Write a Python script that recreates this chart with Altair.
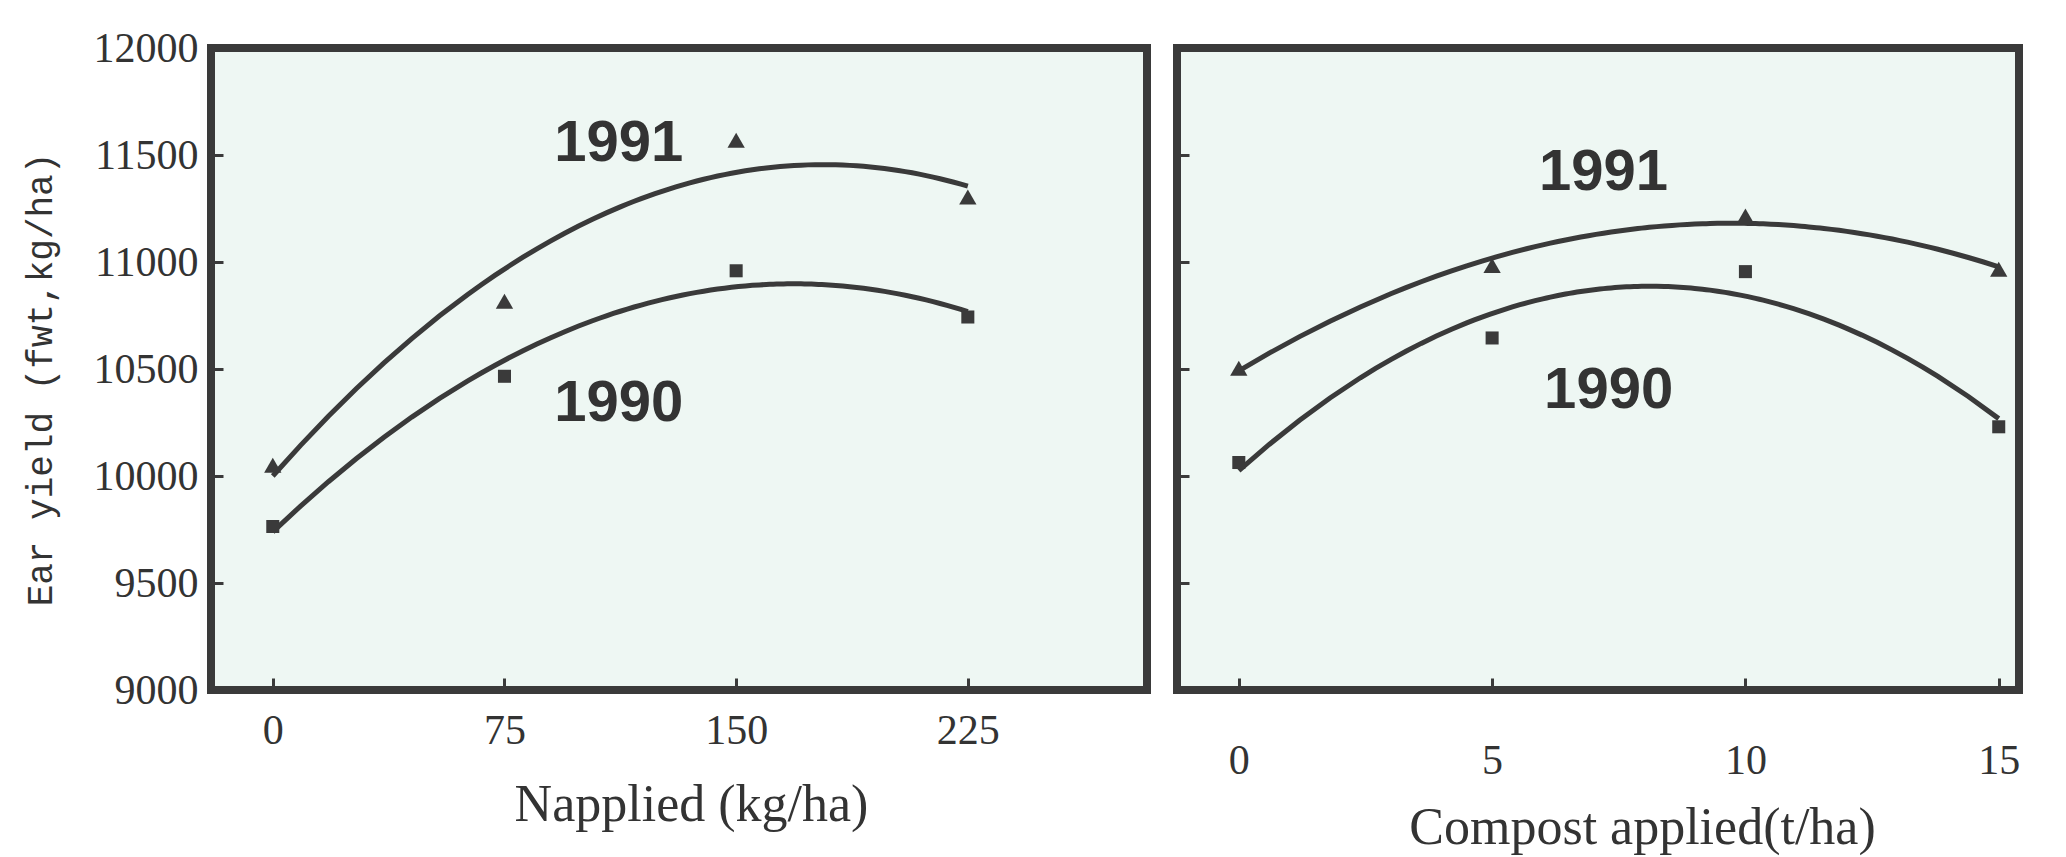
import altair as alt
import pandas as pd

# ---- data ----
years = ["1991", "1990"]

n_rate = [0, 75, 150, 225]
n_yield_1991 = [10050, 10817, 11569, 11304]
n_yield_1990 = [9764, 10466, 10959, 10743]

compost_rate = [0, 5, 10, 15]
c_yield_1991 = [10503, 10984, 11215, 10966]
c_yield_1990 = [10063, 10645, 10955, 10230]

y_ticks = [9000, 9500, 10000, 10500, 11000, 11500, 12000]
n_ticks = [0, 75, 150, 225]
c_ticks = [0, 5, 10, 15]

# annotation anchors (data units)
n_label_x = [112, 112]
n_label_y = [11550, 10337]
c_label_x = [7.2, 7.3]
c_label_y = [11415, 10398]

INK = "#3a3a3a"
PANEL_BG = "#eef7f3"
H = 642

n_df = pd.DataFrame({
    "x": n_rate + n_rate,
    "y": n_yield_1991 + n_yield_1990,
    "year": [years[0]] * len(n_rate) + [years[1]] * len(n_rate),
})
c_df = pd.DataFrame({
    "x": compost_rate + compost_rate,
    "y": c_yield_1991 + c_yield_1990,
    "year": [years[0]] * len(compost_rate) + [years[1]] * len(compost_rate),
})
n_lab = pd.DataFrame({"x": n_label_x, "y": n_label_y, "t": years})
c_lab = pd.DataFrame({"x": c_label_x, "y": c_label_y, "t": years})


def panel(df, lab, xdom, xticks, xtitle, width, show_y, x_lab_pad, x_title_dx, x_title_y):
    xs = alt.Scale(domain=xdom, nice=False, zero=False)
    ys = alt.Scale(domain=[9000, 12000], nice=False, zero=False)
    xaxis = alt.Axis(
        values=xticks, title=xtitle, grid=False, domain=False, format="d",
        tickSize=12, tickWidth=3, tickColor=INK, offset=-12,
        labelPadding=x_lab_pad, labelFont="Liberation Serif", labelFontSize=42,
        labelColor="#333333", labelAngle=0,
        titleFont="Liberation Serif", titleFontSize=52, titleFontWeight="normal",
        titleColor="#333333", titleX=width / 2 + x_title_dx, titleY=x_title_y,
        titleBaseline="middle", titleAlign="center",
    )
    if show_y:
        yaxis = alt.Axis(
            values=y_ticks, title="Ear yield (fwt,kg/ha)", grid=False, domain=False,
            format="d",
            tickSize=12, tickWidth=3, tickColor=INK, offset=-12,
            labelPadding=13, labelFont="Liberation Serif", labelFontSize=42,
            labelColor="#333333",
            titleFont="Liberation Mono", titleFontSize=36, titleFontWeight="normal",
            titleColor="#333333", titleX=-183, titleY=H / 2 + 10,
            titleBaseline="middle", titleAlign="center", titleAngle=270,
        )
    else:
        yaxis = alt.Axis(
            values=y_ticks, title=None, grid=False, domain=False, labels=False,
            tickSize=12, tickWidth=3, tickColor=INK, offset=-12,
        )
    x = alt.X("x:Q", scale=xs, axis=xaxis)
    y = alt.Y("y:Q", scale=ys, axis=yaxis)

    curve = alt.Chart(df).transform_regression(
        "x", "y", method="poly", order=2, groupby=["year"]
    ).mark_line(color=INK, strokeWidth=5).encode(
        x=x, y=y, detail="year:N"
    )
    pts = alt.Chart(df).mark_point(filled=True, opacity=1, color=INK).encode(
        x=alt.X("x:Q", scale=xs),
        y=alt.Y("y:Q", scale=ys),
        shape=alt.Shape("year:N", scale=alt.Scale(domain=years, range=["triangle-up", "square"]), legend=None),
        size=alt.Size("year:N", scale=alt.Scale(domain=years, range=[300, 170]), legend=None),
    )
    txt = alt.Chart(lab).mark_text(
        font="Liberation Sans", fontWeight="bold", fontSize=58, color="#333333"
    ).encode(
        x=alt.X("x:Q", scale=xs),
        y=alt.Y("y:Q", scale=ys),
        text="t:N",
    )
    return alt.layer(curve, pts, txt).properties(width=width, height=H)


left = panel(n_df, n_lab, [-20, 283], n_ticks, "Napplied (kg/ha)", 936, True, 20, 12, 126)
right = panel(c_df, c_lab, [-1.22, 15.4], c_ticks, "Compost applied(t/ha)", 842, False, 50, 44, 149)

chart = alt.hconcat(left, right, spacing=20).properties(
    padding={"left": 10, "top": 15, "right": 10, "bottom": 10},
    background="white",
).configure_view(
    stroke=INK, strokeWidth=8, fill=PANEL_BG
)

chart.save("out.html", embed_options={"renderer": "svg", "actions": False})
